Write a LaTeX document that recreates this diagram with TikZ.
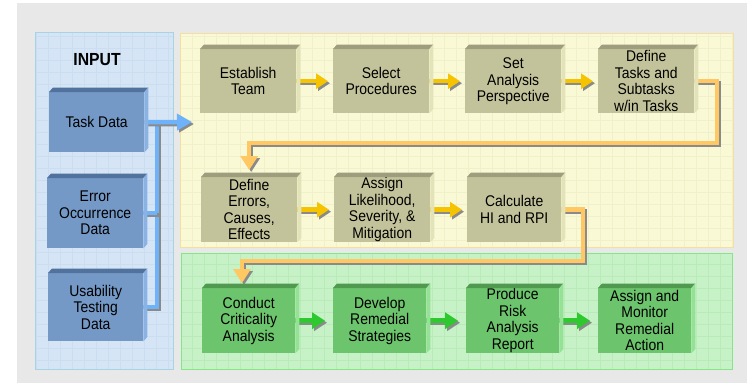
\documentclass[tikz,border=0pt]{standalone}
\usepackage{fontspec}
\setmainfont[FakeStretch=0.9]{Liberation Sans}
\usetikzlibrary{arrows.meta}
\pgfdeclarelayer{bg}
\pgfdeclarelayer{conn}
\pgfsetlayers{bg,conn,main}
\definecolor{bgc}{HTML}{E8E8E8}
\definecolor{bluepan}{HTML}{D5E5F6}
\definecolor{bluepanb}{HTML}{A6D4E2}
\definecolor{bluegrid}{HTML}{CADDF1}
\definecolor{yelpan}{HTML}{FAF9D6}
\definecolor{yelpanb}{HTML}{F5DFA0}
\definecolor{yelgrid}{HTML}{F0F0CA}
\definecolor{grnpan}{HTML}{C7F2C7}
\definecolor{grnpanb}{HTML}{85E685}
\definecolor{grngrid}{HTML}{B9EBB9}
\definecolor{oliveF}{HTML}{C3C39B}
\definecolor{oliveT}{HTML}{9E9D7D}
\definecolor{oliveS}{HTML}{E3E3B9}
\definecolor{greenF}{HTML}{6CC56C}
\definecolor{greenT}{HTML}{4F9A4F}
\definecolor{greenS}{HTML}{95E195}
\definecolor{blueF}{HTML}{7499C7}
\definecolor{blueT}{HTML}{52729E}
\definecolor{blueS}{HTML}{8AB3E3}
\definecolor{bluec}{HTML}{6EB2FA}
\definecolor{orangec}{HTML}{FFC863}
\definecolor{yellowc}{HTML}{F6C300}
\definecolor{greenc}{HTML}{2EC92E}
\definecolor{shadowc}{HTML}{8A8A8A}
\tikzset{
  boxnode/.style={inner sep=0pt, align=center, text=black,
    font=\fontsize{15.5}{16.5}\selectfont},
  barr/.style={color=bluec, line width=4.5pt},
  btip/.style={-{Triangle[length=15pt,width=16pt]}},
  oarr/.style={color=orangec, line width=4.5pt},
  otip/.style={-{Triangle[length=14pt,width=17pt]}},
  yarr/.style={color=yellowc, line width=4.5pt, -{Triangle[length=12pt,width=15pt]}, shorten >=5pt},
  garr/.style={color=greenc, line width=5pt, -{Triangle[length=13pt,width=16pt]}, shorten >=8pt},
}
\newcommand\shd[2]{\draw[#1, color=shadowc, transform canvas={shift={(2,2)}}] #2; \draw[#1] #2;}
\newcommand\tdbox[7]{%
  \node[boxnode, fill=#6F, minimum width=#4pt, minimum height=#5pt, anchor=north west] (#1) at (#2,#3) {#7};
  \fill[#6T] (#1.north west) -- ++(4,-4.5) -- ([shift={(4,-4.5)}]#1.north east) -- (#1.north east) -- cycle;
  \fill[#6S] (#1.north east) -- ++(4,-4.5) -- ([shift={(4,-4.5)}]#1.south east) -- (#1.south east) -- cycle;
}
\begin{document}
\begin{tikzpicture}[x=1pt, y=-1pt]
\useasboundingbox (0,0) rectangle (747,383);
\begin{pgfonlayer}{bg}
\fill[white] (0,0) rectangle (747,383);
\fill[bgc] (17,3) rectangle (747,383);
% blue panel
\fill[bluepan] (35,32) rectangle (173,369);
\begin{scope}\clip (35,32) rectangle (173,369);
\draw[bluegrid, line width=0.4pt, step=12pt] (35,32) grid (173,369);
\end{scope}
\draw[bluepanb, line width=0.8pt] (35,32) rectangle (173,369);
% yellow panel
\fill[yelpan] (180,33) rectangle (733,247);
\begin{scope}\clip (180,33) rectangle (733,247);
\draw[yelgrid, line width=0.4pt, step=12pt] (180,33) grid (733,247);
\end{scope}
\draw[yelpanb, line width=0.8pt] (180,33) rectangle (733,247);
% green panel
\fill[grnpan] (181,253) rectangle (732,369);
\begin{scope}\clip (181,253) rectangle (732,369);
\draw[grngrid, line width=0.4pt, step=12pt] (181,253) grid (732,369);
\end{scope}
\draw[grnpanb, line width=0.8pt] (181,253) rectangle (732,369);
\end{pgfonlayer}

\node[font=\fontsize{17.5}{18}\selectfont\bfseries] (inputlbl) at (97,60) {INPUT};

% input boxes
\tdbox{td}{49}{92}{95}{60}{blue}{Task Data}
\tdbox{err}{47}{178}{96}{70}{blue}{Error\\Occurrence\\Data}
\tdbox{usa}{48}{273}{95}{68}{blue}{Usability\\Testing\\Data}

% row 1
\tdbox{est}{200}{49}{96}{64}{olive}{Establish\\Team}
\tdbox{sel}{333}{49}{96}{64}{olive}{Select\\Procedures}
\tdbox{set}{465}{49}{96}{64}{olive}{Set\\Analysis\\Perspective}
\tdbox{dtask}{598}{49}{96}{64}{olive}{Define\\Tasks and\\Subtasks\\w/in Tasks}
% row 2
\tdbox{derr}{201}{177}{96}{65}{olive}{Define\\Errors,\\Causes,\\Effects}
\tdbox{asg}{334}{177}{96}{65}{olive}{Assign\\Likelihood,\\Severity, \&\\Mitigation}
\tdbox{calc}{467}{177}{94}{65}{olive}{Calculate\\HI and RPI}
% row 3
\tdbox{cond}{202}{288}{93}{65}{green}{Conduct\\Criticality\\Analysis}
\tdbox{dev}{333}{288}{93}{65}{green}{Develop\\Remedial\\Strategies}
\tdbox{prod}{466}{288}{93}{65}{green}{Produce\\Risk\\Analysis\\Report}
\tdbox{mon}{598}{288}{93}{65}{green}{Assign and\\Monitor\\Remedial\\Action}

\coordinate (inp) at (192,122);
\coordinate (bt) at (157,122);
\coordinate (c1) at (717,143);
\coordinate (c2) at (derr.north |- c1);
\coordinate (c3) at ([yshift=7pt]derr.north);
\coordinate (d1) at (583,261);
\coordinate (d2) at (242,261);
\coordinate (d3) at (242,283);

\begin{pgfonlayer}{conn}
% blue input connectors
\shd{barr}{(usa.east) -| (bt)}
\shd{barr}{(err.east) -- (err.east -| bt)}
\shd{barr, btip}{(td.east) -- (inp)}
% orange cross-row connectors
\shd{oarr, otip}{(dtask.east) -| (c1) -- (c2) -- (c3)}
\shd{oarr, otip}{(calc.east) -| (d1) -- (d2) -- (d3)}
% yellow arrows
\shd{yarr}{(est.east) -- (sel.west)}
\shd{yarr}{(sel.east) -- (set.west)}
\shd{yarr}{(set.east) -- (dtask.west)}
\shd{yarr}{(derr.east) -- (asg.west)}
\shd{yarr}{(asg.east) -- (calc.west)}
% green arrows
\shd{garr}{(cond.east) -- (dev.west)}
\shd{garr}{(dev.east) -- (prod.west)}
\shd{garr}{(prod.east) -- (mon.west)}
\end{pgfonlayer}
\end{tikzpicture}
\end{document}
